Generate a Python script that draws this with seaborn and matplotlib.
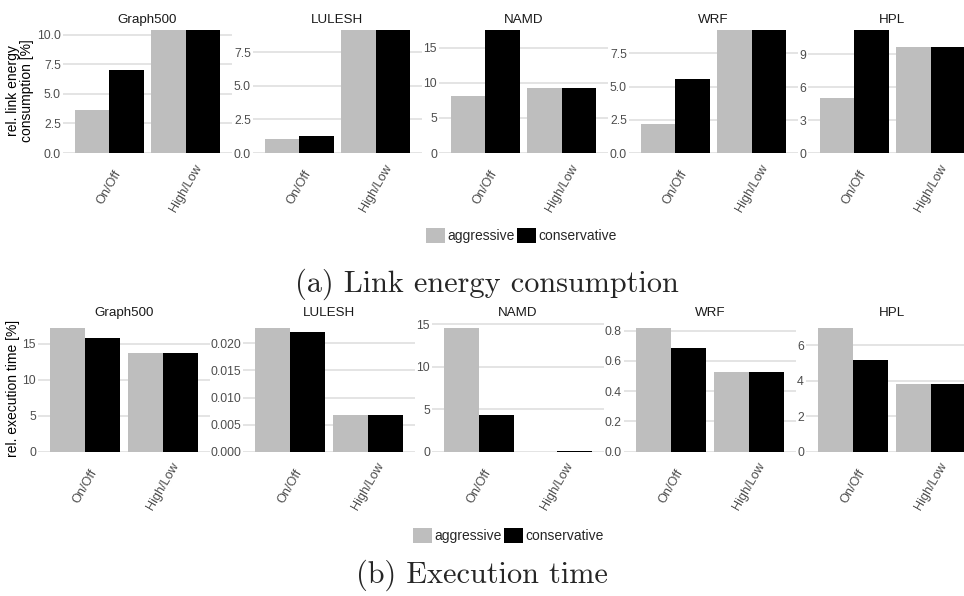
import matplotlib
matplotlib.use("Agg")
import matplotlib.pyplot as plt
from matplotlib.patches import Patch
from matplotlib.ticker import FixedLocator, FormatStrFormatter
import pandas as pd
import seaborn as sns

# ---- data -------------------------------------------------------------
apps = ["Graph500", "LULESH", "NAMD", "WRF", "HPL"]
schemes = ["On/Off", "High/Low"]
policies = ["aggressive", "conservative"]
colors = {"aggressive": "#BEBEBE", "conservative": "#000000"}

# relative link energy consumption [%]
energy_aggr_onoff = [3.65, 1.04, 8.12, 2.20, 5.03]
energy_cons_onoff = [7.05, 1.27, 17.8, 5.57, 11.4]
energy_aggr_highlow = [10.6, 9.3, 9.26, 9.4, 9.66]
energy_cons_highlow = [10.6, 9.3, 9.26, 9.4, 9.66]
energy_ymax = [10.42, 9.16, 17.5, 9.25, 11.2]
energy_ticks = [[0, 2.5, 5, 7.5, 10], [0, 2.5, 5, 7.5], [0, 5, 10, 15],
                [0, 2.5, 5, 7.5], [0, 3, 6, 9]]
energy_fmt = ["%.1f", "%.1f", "%d", "%.1f", "%d"]

# relative execution time [%]
time_aggr_onoff = [17.23, 0.02284, 14.48, 0.818, 6.98]
time_cons_onoff = [15.84, 0.0221, 4.30, 0.686, 5.18]
time_aggr_highlow = [13.75, 0.00677, 0.01, 0.527, 3.82]
time_cons_highlow = [13.75, 0.00677, 0.03, 0.527, 3.82]
time_ymax = [17.92, 0.02376, 15.12, 0.851, 7.26]
time_ticks = [[0, 5, 10, 15], [0, 0.005, 0.010, 0.015, 0.020], [0, 5, 10, 15],
              [0, 0.2, 0.4, 0.6, 0.8], [0, 2, 4, 6]]
time_fmt = ["%d", "%.3f", "%d", "%.1f", "%d"]


def tidy(a_on, c_on, a_hl, c_hl):
    rows = []
    for i, app in enumerate(apps):
        rows.append((app, "On/Off", "aggressive", a_on[i]))
        rows.append((app, "On/Off", "conservative", c_on[i]))
        rows.append((app, "High/Low", "aggressive", a_hl[i]))
        rows.append((app, "High/Low", "conservative", c_hl[i]))
    return pd.DataFrame(rows, columns=["app", "scheme", "policy", "value"])


energy = tidy(energy_aggr_onoff, energy_cons_onoff,
              energy_aggr_highlow, energy_cons_highlow)
exectime = tidy(time_aggr_onoff, time_cons_onoff,
                time_aggr_highlow, time_cons_highlow)

# ---- style ------------------------------------------------------------
sns.set_theme(style="white")
plt.rcParams["font.family"] = ["Liberation Sans", "DejaVu Sans"]

W, H = 964, 596
fig = plt.figure(figsize=(W / 100, H / 100), dpi=100)

GRID = "#DCDCDC"
TICK = "#4D4D4D"


def panel_row(df, lefts, width, top, bottom, ymax, ticks, fmts):
    axes = []
    for i, app in enumerate(apps):
        ax = fig.add_axes([lefts[i] / W, 1 - bottom / H,
                           width / W, (bottom - top) / H])
        sub = df[df["app"] == app]
        sns.barplot(data=sub, x="scheme", y="value", hue="policy",
                    order=schemes, hue_order=policies, palette=colors,
                    width=0.9, gap=0, linewidth=0, errorbar=None,
                    legend=False, ax=ax, zorder=3)
        ax.set_xlim(-0.6, 1.6)
        ax.set_ylim(0, ymax[i])
        ax.yaxis.set_major_locator(FixedLocator(ticks[i]))
        ax.yaxis.set_major_formatter(FormatStrFormatter(fmts[i]))
        ax.grid(axis="y", color=GRID, linewidth=1.1, zorder=0)
        ax.grid(axis="x", visible=False)
        for s in ax.spines.values():
            s.set_visible(False)
        ax.tick_params(axis="y", length=0, pad=1.5, labelsize=8.8,
                       labelcolor=TICK)
        ax.tick_params(axis="x", length=0, pad=25, labelsize=9.1,
                       labelcolor=TICK)
        for lab in ax.get_xticklabels():
            lab.set_rotation(60)
            lab.set_ha("center")
            lab.set_va("center")
        ax.set_xlabel("")
        ax.set_ylabel("")
        ax.set_title(app, fontsize=9.6, color="#1A1A1A", pad=5)
        axes.append(ax)
    return axes


# (a) link energy consumption
top_axes = panel_row(energy, [63, 253, 439, 629, 808], 169, 30, 153,
                     energy_ymax, energy_ticks, energy_fmt)
fig.text(20 / W, 1 - 91 / H, "rel. link energy\nconsumption [%]",
         rotation=90, ha="center", va="center", fontsize=10,
         linespacing=0.95, color="black")

# (b) execution time
bot_axes = panel_row(exectime, [38, 243, 432, 624, 806], 171.5, 323, 451.7,
                     time_ymax, time_ticks, time_fmt)
fig.text(13 / W, 1 - 388 / H, "rel. execution time [%]",
         rotation=90, ha="center", va="center", fontsize=10, color="black")

handles = [Patch(facecolor=colors[p], edgecolor="none", label=p)
           for p in policies]
for cx, cy in [(521.5, 235.5), (508.5, 535.5)]:
    fig.legend(handles=handles, loc="center", bbox_to_anchor=(cx / W, 1 - cy / H),
               ncol=2, frameon=False, fontsize=10, handlelength=1.35,
               handleheight=1.35, handletextpad=0.15, columnspacing=0.2,
               borderpad=0, borderaxespad=0)

fig.text(487 / W, 1 - 284 / H, "(a) Link energy consumption",
         ha="center", va="center", fontsize=21.8, family="cmr10")
fig.text(482 / W, 1 - 575 / H, "(b) Execution time",
         ha="center", va="center", fontsize=21.8, family="cmr10")

fig.savefig("out.png", dpi=100)
